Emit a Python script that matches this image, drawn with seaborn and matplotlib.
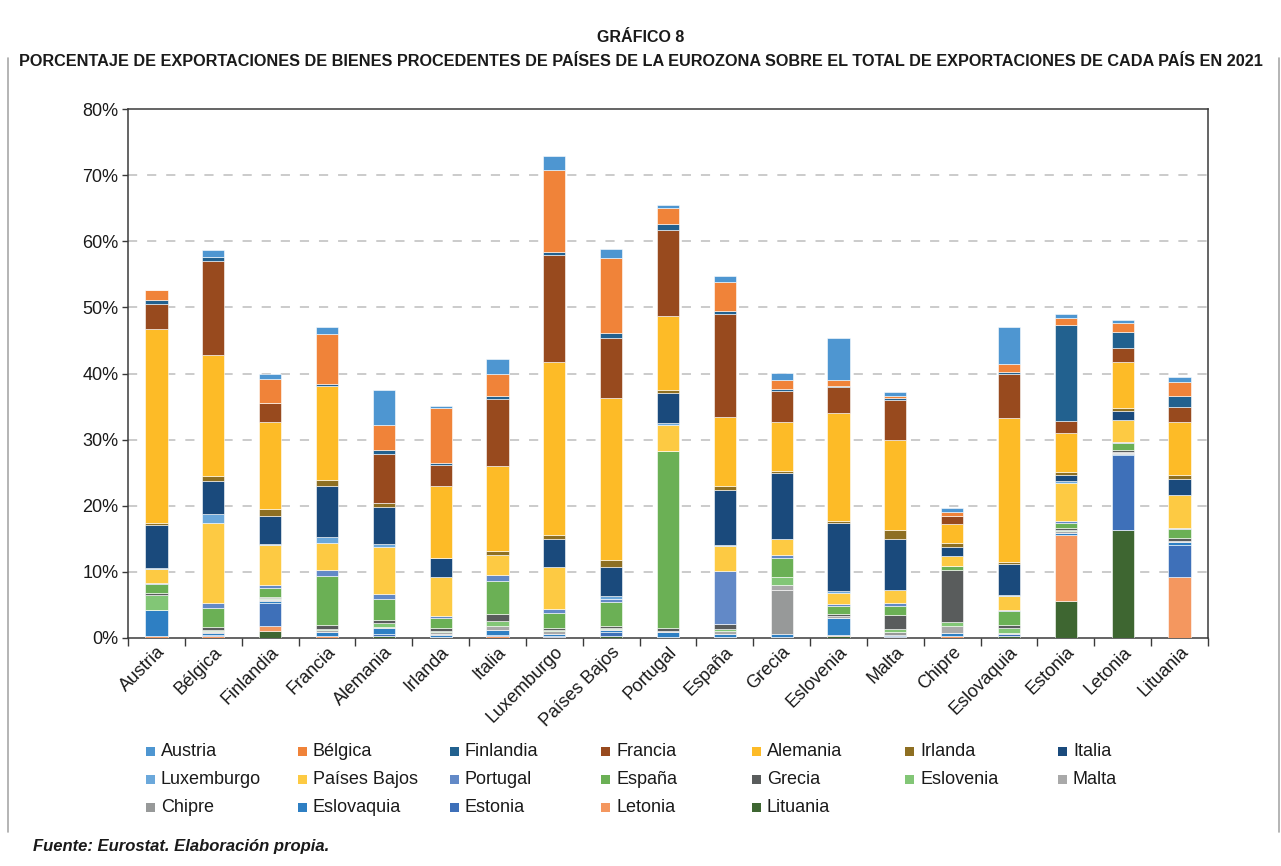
import numpy as np
import matplotlib
matplotlib.use("Agg")
import matplotlib.pyplot as plt
from matplotlib import font_manager as fm
from matplotlib.patches import Rectangle
from matplotlib.lines import Line2D
import seaborn as sns

# Exporting countries (one bar each)
paises = ["Austria", "Bélgica", "Finlandia", "Francia", "Alemania", "Irlanda",
          "Italia", "Luxemburgo", "Países Bajos", "Portugal", "España", "Grecia",
          "Eslovenia", "Malta", "Chipre", "Eslovaquia", "Estonia", "Letonia", "Lituania"]

# Share (%) of each exporter's goods exports going to each euro-area partner
austria      = [0.0, 1.1, 0.75, 1.0, 5.3, 0.3, 2.2, 2.1, 1.35, 0.5, 0.85, 1.0, 6.4, 0.55, 0.5, 5.5, 0.6, 0.5, 0.75]
belgica      = [1.6, 0.0, 3.5, 7.6, 3.8, 8.4, 3.4, 12.5, 11.4, 2.5, 4.5, 1.4, 0.85, 0.35, 0.6, 1.3, 1.0, 1.4, 2.15]
finlandia    = [0.6, 0.55, 0.0, 0.25, 0.65, 0.25, 0.35, 0.5, 0.75, 0.8, 0.35, 0.25, 0.25, 0.25, 0.05, 0.35, 14.5, 2.45, 1.6]
francia      = [3.7, 14.3, 2.9, 0.0, 7.4, 3.2, 10.2, 16.1, 9.0, 13.0, 15.7, 4.7, 3.9, 6.0, 1.25, 6.6, 1.8, 2.05, 2.35]
alemania     = [29.3, 18.3, 13.2, 14.3, 0.0, 10.8, 12.8, 26.2, 24.6, 11.2, 10.4, 7.4, 16.3, 13.7, 2.9, 21.7, 6.0, 6.9, 8.0]
irlanda      = [0.35, 0.75, 1.0, 0.85, 0.65, 0.0, 0.6, 0.6, 1.0, 0.55, 0.5, 0.3, 0.25, 1.4, 0.5, 0.35, 0.35, 0.5, 0.6]
italia       = [6.5, 5.0, 4.3, 7.8, 5.5, 2.9, 0.0, 4.2, 4.4, 4.5, 8.4, 10.0, 10.4, 7.6, 1.35, 4.7, 1.0, 1.35, 2.3]
luxemburgo   = [0.1, 1.35, 0.15, 0.85, 0.5, 0.1, 0.1, 0.0, 0.45, 0.25, 0.1, 0.1, 0.25, 0.1, 0.0, 0.1, 0.25, 0.1, 0.1]
paises_bajos = [2.2, 12.1, 6.1, 4.0, 7.1, 5.8, 2.9, 6.4, 0.0, 3.9, 3.8, 2.4, 1.65, 1.9, 1.55, 2.1, 5.8, 3.2, 4.9]
portugal     = [0.2, 0.75, 0.4, 1.0, 0.8, 0.25, 1.0, 0.5, 0.45, 0.0, 8.1, 0.45, 0.25, 0.5, 0.05, 0.25, 0.2, 0.25, 0.25]
espana       = [1.3, 2.9, 1.3, 7.4, 3.2, 1.6, 5.0, 2.4, 3.6, 26.8, 0.0, 2.9, 1.25, 1.25, 0.6, 2.1, 0.85, 1.0, 1.4]
grecia       = [0.3, 0.35, 0.25, 0.55, 0.4, 0.4, 1.0, 0.25, 0.35, 0.5, 0.75, 0.0, 0.25, 2.15, 7.9, 0.5, 0.25, 0.25, 0.35]
eslovenia    = [2.2, 0.15, 0.15, 0.25, 0.65, 0.25, 0.85, 0.2, 0.15, 0.05, 0.3, 1.1, 0.0, 0.45, 0.5, 0.65, 0.1, 0.1, 0.1]
malta        = [0.1, 0.2, 0.15, 0.25, 0.1, 0.25, 0.5, 0.4, 0.15, 0.05, 0.35, 0.75, 0.3, 0.0, 1.15, 0.1, 0.3, 0.15, 0.1]
chipre       = [0.0, 0.1, 0.05, 0.05, 0.05, 0.1, 0.05, 0.05, 0.05, 0.05, 0.05, 6.7, 0.05, 0.45, 0.0, 0.1, 0.05, 0.1, 0.05]
eslovaquia   = [3.9, 0.35, 0.35, 0.5, 0.85, 0.35, 0.8, 0.25, 0.3, 0.7, 0.45, 0.45, 2.6, 0.25, 0.4, 0.0, 0.25, 0.25, 0.4]
estonia      = [0.0, 0.1, 3.5, 0.05, 0.3, 0.05, 0.05, 0.2, 0.5, 0.1, 0.05, 0.05, 0.05, 0.15, 0.0, 0.25, 0.0, 11.2, 4.8]
letonia      = [0.3, 0.3, 0.8, 0.25, 0.05, 0.05, 0.3, 0.05, 0.05, 0.05, 0.05, 0.05, 0.05, 0.05, 0.3, 0.05, 10.05, 0.0, 9.25]
lituania     = [0.0, 0.05, 1.0, 0.05, 0.25, 0.05, 0.05, 0.05, 0.3, 0.05, 0.05, 0.05, 0.35, 0.05, 0.0, 0.3, 5.6, 16.4, 0.0]

socios = ["Austria", "Bélgica", "Finlandia", "Francia", "Alemania", "Irlanda", "Italia",
          "Luxemburgo", "Países Bajos", "Portugal", "España", "Grecia", "Eslovenia", "Malta",
          "Chipre", "Eslovaquia", "Estonia", "Letonia", "Lituania"]
valores = [austria, belgica, finlandia, francia, alemania, irlanda, italia, luxemburgo,
           paises_bajos, portugal, espana, grecia, eslovenia, malta, chipre, eslovaquia,
           estonia, letonia, lituania]
colores = ["#4e96d1", "#f08339", "#22618f", "#984a1e", "#fdbb27", "#8e6f22", "#1a4a7c",
           "#6ba8db", "#fdca43", "#6289c7", "#6bb055", "#595c5c", "#82c676", "#a9a9a9",
           "#979999", "#2e7fc3", "#3e70b9", "#f4975f", "#3e6631"]

sns.set_theme(style="white")
plt.rcParams["font.family"] = ["Liberation Sans", "DejaVu Sans"]

W, H = 1281, 866
fig = plt.figure(figsize=(W / 100, H / 100), dpi=100)
fig.patch.set_facecolor("white")

# axes box in pixel coordinates
L, R, T, B = 128, 1208, 109, 638
ax = fig.add_axes([L / W, 1 - B / H, (R - L) / W, (B - T) / H])

# stacked bars: the last partner sits at the bottom, Austria on top
base = np.zeros(len(paises))
for nombre, vals, col in zip(socios[::-1], valores[::-1], colores[::-1]):
    sns.barplot(x=paises, y=vals, order=paises, color=col, saturation=1, width=0.39,
                bottom=base.copy(), errorbar=None, ax=ax,
                edgecolor="white", linewidth=0.4, zorder=3)
    base = base + np.array(vals)

ax.set_xlim(-0.5, len(paises) - 0.5)
ax.set_ylim(0, 80)
ax.set_yticks(np.arange(0, 81, 10))
ax.set_yticklabels([f"{v}%" for v in range(0, 81, 10)], fontsize=13, color="#1a1a1a")
ax.set_xlabel("")
ax.set_ylabel("")

# dashed horizontal grid
for v in range(10, 80, 10):
    ax.axhline(v, color="#bdbdbd", linewidth=1.1, linestyle=(0, (6, 6.5)), zorder=1)

for s in ax.spines.values():
    s.set_visible(True)
    s.set_color("#3a3a3a")
    s.set_linewidth(1.1)

ax.tick_params(axis="y", which="major", direction="out", length=4, width=1,
               color="#3a3a3a", pad=3, left=True)
# category separators on the x axis
ax.set_xticks(np.arange(len(paises)))
ax.set_xticks(np.arange(-0.5, len(paises), 1), minor=True)
ax.tick_params(axis="x", which="major", length=0, pad=4, bottom=True)
ax.tick_params(axis="x", which="minor", direction="out", length=6, width=1,
               color="#3a3a3a", bottom=True)
ax.set_xticklabels(paises, rotation=45, ha="right", rotation_mode="anchor",
                   fontsize=13, color="#1a1a1a")

# titles
names = {f.name for f in fm.fontManager.ttflist}
tfam = ["Liberation Sans Narrow", "Liberation Sans"] if "Liberation Sans Narrow" in names \
    else ["Liberation Sans", "DejaVu Sans"]
t1 = fig.text(0.5, 1 - 38 / H, "GRÁFICO 8", ha="center", va="center",
              fontweight="bold", fontsize=12, family=tfam, color="#1a1a1a")
t2 = fig.text(0.5, 1 - 62 / H,
              "PORCENTAJE DE EXPORTACIONES DE BIENES PROCEDENTES DE PAÍSES DE LA EUROZONA "
              "SOBRE EL TOTAL DE EXPORTACIONES DE CADA PAÍS EN 2021",
              ha="center", va="center", fontweight="bold", fontsize=12, family=tfam,
              color="#1a1a1a")
fig.canvas.draw()
rend = fig.canvas.get_renderer()
for t, target in ((t1, 87), (t2, 1235)):
    w = t.get_window_extent(rend).width
    t.set_fontsize(t.get_fontsize() * target / w)

# legend, filled row by row in seven columns
col_x = [146, 298, 450, 601, 752, 905, 1058]
row_y = [751, 779, 807]
for i, (nombre, col) in enumerate(zip(socios, colores)):
    r, c = divmod(i, 7)
    x0, y0 = col_x[c], row_y[r]
    fig.patches.append(Rectangle(((x0) / W, 1 - (y0 + 4.5) / H), 9 / W, 9 / H,
                                 transform=fig.transFigure, facecolor=col,
                                 edgecolor="none", figure=fig))
    fig.text((x0 + 15) / W, 1 - y0 / H, nombre, ha="left", va="center",
             fontsize=13, color="#1a1a1a")

# source note
fig.text(33 / W, 1 - 847 / H, "Fuente: Eurostat. Elaboración propia.", ha="left",
         va="center", fontsize=12, fontweight="bold", fontstyle="italic", color="#1a1a1a")

# side rules of the frame
for xp in (8, 1279):
    fig.add_artist(Line2D([xp / W, xp / W], [1 - 58 / H, 1 - 832 / H],
                          transform=fig.transFigure, color="#a8a8a8", linewidth=1.2))

fig.savefig("out.png", dpi=100, facecolor="white")
